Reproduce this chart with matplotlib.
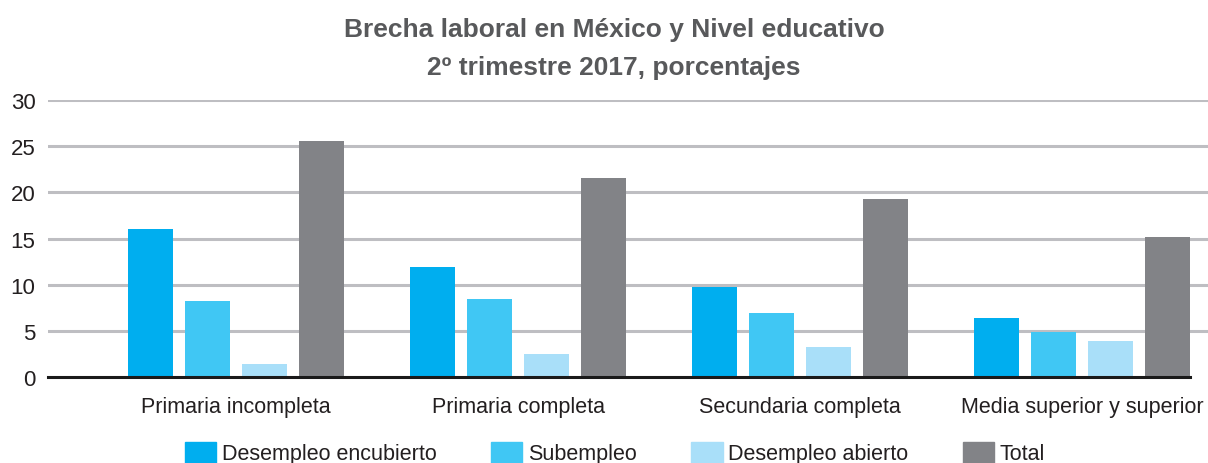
import numpy as np
import matplotlib.pyplot as plt
from matplotlib.patches import Patch

# Data
categorias = ["Primaria incompleta", "Primaria completa", "Secundaria completa", "Media superior y superior"]
series = ["Desempleo encubierto", "Subempleo", "Desempleo abierto", "Total"]
desempleo_encubierto = [16.0, 11.9, 9.7, 6.4]
subempleo = [8.2, 8.5, 6.9, 4.9]
desempleo_abierto = [1.4, 2.5, 3.2, 3.9]
total = [25.6, 21.5, 19.3, 15.2]
yticks = [0, 5, 10, 15, 20, 25, 30]

colores = ["#00AEEF", "#40C7F4", "#A9DFF9", "#828387"]

plt.rcParams['font.family'] = ['Liberation Sans', 'DejaVu Sans']

fig = plt.figure(figsize=(12.08, 4.64), dpi=100)
ax = fig.add_axes([48 / 1208, 1 - 378 / 464, 1160 / 1208, 277 / 464])

x = np.arange(len(categorias))
paso = 57 / 282
ancho = 45 / 282
valores = [desempleo_encubierto, subempleo, desempleo_abierto, total]
for i, (nombre, vals) in enumerate(zip(series, valores)):
    ax.bar(x + (i - 1.5) * paso, vals, width=ancho, color=colores[i], label=nombre, zorder=3)

ax.set_ylim(0, 30)
ax.set_xlim(-188 / 282, (1208 - 236) / 282)
ax.set_yticks(yticks)
ax.set_yticklabels([str(t) for t in yticks], fontsize=16, color="#231F20")
ax.set_xticks(x)
ax.set_xticklabels(categorias, fontsize=15.5, color="#231F20")
ax.tick_params(axis='both', length=0)
ax.tick_params(axis='y', pad=9)
ax.tick_params(axis='x', pad=14)

for t in yticks[1:]:
    ax.axhline(t, color="#BEBEC2", lw=2.2, zorder=1)
ax.axhline(0, color="#1A1A1A", lw=2.2, zorder=4, xmax=1142 / 1160, clip_on=False)

for s in ax.spines.values():
    s.set_visible(False)

fig.text(614 / 1208, 1 - 30 / 464, "Brecha laboral en México y Nivel educativo",
         ha='center', va='center', fontsize=19, fontweight='bold', color="#58595B")
fig.text(614 / 1208, 1 - 68 / 464, "2º trimestre 2017, porcentajes",
         ha='center', va='center', fontsize=19, fontweight='bold', color="#58595B")

handles = [Patch(color=c) for c in colores]
fig.legend(handles, series, loc='center', bbox_to_anchor=(615 / 1208, 1 - 454 / 464),
           ncol=4, frameon=False, fontsize=15.5, handlelength=1.45, handleheight=1.15,
           handletextpad=0.25, columnspacing=2.55, labelcolor="#231F20")

fig.savefig("out.png", dpi=100)
